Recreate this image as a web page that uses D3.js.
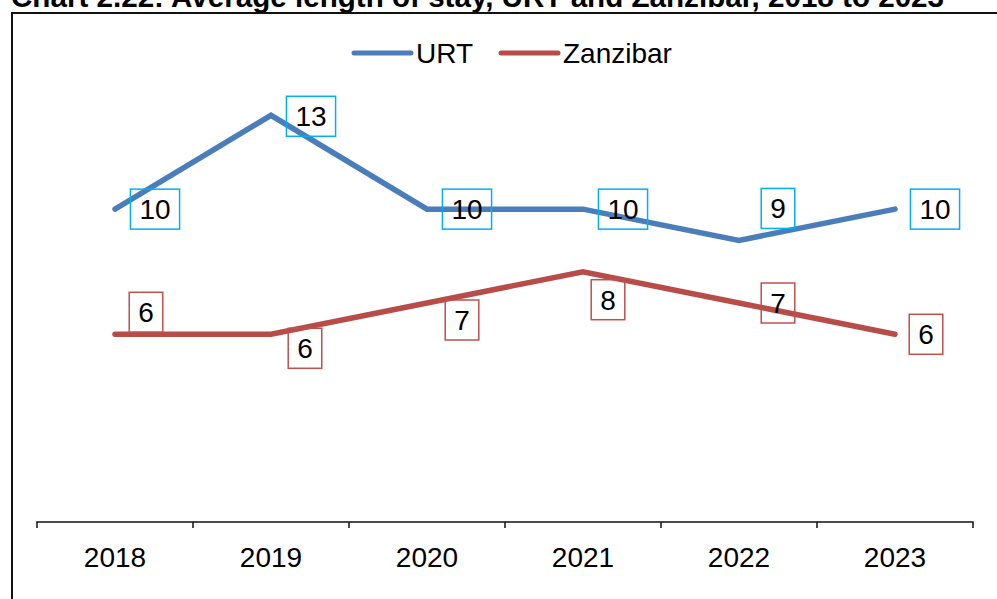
<!DOCTYPE html>
<html>
<head>
<meta charset="utf-8">
<script src="https://cdn.jsdelivr.net/npm/d3@7"></script>
<style>
  body { margin: 0; background: #fff; }
  text { font-family: "Liberation Sans", Arial, sans-serif; }
</style>
</head>
<body>
<svg id="chart"></svg>
<script>
// data
const years = ["2018", "2019", "2020", "2021", "2022", "2023"];
const urt = [10, 13, 10, 10, 9, 10];
const zanzibar = [6, 6, 7, 8, 7, 6];
const seriesNames = ["URT", "Zanzibar"];

// label box offsets from the point (manually placed in the original)
const urtLabelPos = [[40, 0], [40, 1], [40, 0], [40, 0], [39, -32], [40, 0]];
const zanLabelPos = [[31, -22], [34, 14], [35, 17], [25, 28], [39, 0], [31, 0]];

const width = 997;
const height = 599;

const svg = d3.select("#chart")
    .attr("width", width)
    .attr("height", height);

// title (partly cut off at the top, as in the source)
svg.append("text")
    .attr("x", 11)
    .attr("y", 7)
    .attr("font-size", 29.6)
    .attr("font-weight", "bold")
    .attr("fill", "#000")
    .text("Chart 2.22: Average length of stay, URT and Zanzibar, 2018 to 2023");

// outer border of the chart area
svg.append("rect")
    .attr("x", 12)
    .attr("y", 13)
    .attr("width", 1000)
    .attr("height", 600)
    .attr("fill", "none")
    .attr("stroke", "#111")
    .attr("stroke-width", 2);

// scales
const xScale = d3.scaleBand()
    .domain(years)
    .range([37, 973])
    .padding(0);

const yScale = d3.scaleLinear()
    .domain([0, 14])
    .range([522, 84]);

const xMid = d => xScale(d) + xScale.bandwidth() / 2;

// x axis: labels from axisBottom, ticks on band boundaries
const axisG = svg.append("g")
    .attr("transform", `translate(0,${yScale(0)})`)
    .call(d3.axisBottom(xScale).tickSize(0).tickPadding(25));

axisG.select(".domain")
    .attr("stroke", "#111")
    .attr("stroke-width", 1.5)
    .attr("d", `M${xScale.range()[0]},6V0H${xScale.range()[1]}V6`);

axisG.selectAll(".tick text")
    .attr("font-family", "Liberation Sans, Arial, sans-serif")
    .attr("font-size", 28)
    .attr("fill", "#000");

const bounds = years.map(d => xScale(d)).concat([xScale.range()[1]]);
axisG.selectAll(".bound")
    .data(bounds.slice(1, -1))
    .enter().append("line")
    .attr("class", "bound")
    .attr("x1", d => d)
    .attr("x2", d => d)
    .attr("y1", 0)
    .attr("y2", 6)
    .attr("stroke", "#111")
    .attr("stroke-width", 1.5);

// lines
const colors = { URT: "#4A7EBB", Zanzibar: "#B84C49" };
const boxColors = { URT: "#00B0F0", Zanzibar: "#C0504D" };

const line = d3.line()
    .x((d, i) => xMid(years[i]))
    .y(d => yScale(d));

const series = [
  { name: "URT", values: urt, pos: urtLabelPos },
  { name: "Zanzibar", values: zanzibar, pos: zanLabelPos }
];

series.forEach(s => {
  svg.append("path")
      .datum(s.values)
      .attr("fill", "none")
      .attr("stroke", colors[s.name])
      .attr("stroke-width", 5.5)
      .attr("stroke-linecap", "round")
      .attr("stroke-linejoin", "miter")
      .attr("d", line);
});

// data labels with boxes
series.forEach(s => {
  s.values.forEach((v, i) => {
    const cx = xMid(years[i]) + s.pos[i][0];
    const cy = yScale(v) + s.pos[i][1];
    const g = svg.append("g");
    const rect = g.append("rect");
    const t = g.append("text")
        .attr("x", cx)
        .attr("y", cy + 10)
        .attr("text-anchor", "middle")
        .attr("font-size", 28)
        .attr("fill", "#000")
        .text(v);
    const w = t.node().getComputedTextLength() + 18;
    rect.attr("x", cx - w / 2)
        .attr("y", cy - 20)
        .attr("width", w)
        .attr("height", 40)
        .attr("fill", "none")
        .attr("stroke", boxColors[s.name])
        .attr("stroke-width", 1.5);
  });
});

// legend
const legendItems = [
  { name: seriesNames[0], x: 354 },
  { name: seriesNames[1], x: 501 }
];
legendItems.forEach(item => {
  svg.append("line")
      .attr("x1", item.x)
      .attr("x2", item.x + 57)
      .attr("y1", 53)
      .attr("y2", 53)
      .attr("stroke", colors[item.name])
      .attr("stroke-width", 5)
      .attr("stroke-linecap", "round");
  svg.append("text")
      .attr("x", item.x + 62)
      .attr("y", 63)
      .attr("font-size", 28)
      .attr("fill", "#000")
      .text(item.name);
});
</script>
</body>
</html>
